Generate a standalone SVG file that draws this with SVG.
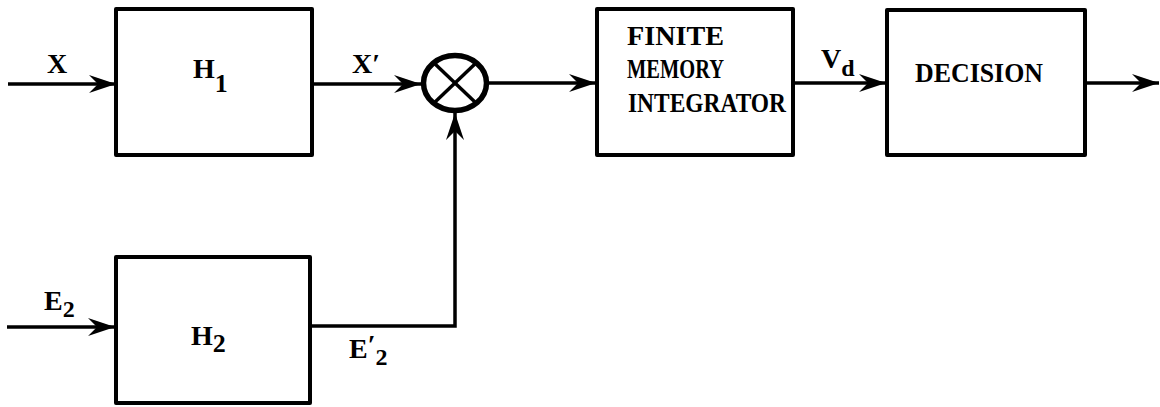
<svg xmlns="http://www.w3.org/2000/svg" width="1160" height="407" viewBox="0 0 1160 407">
<style>
.box{fill:none;stroke:#000;stroke-width:4;stroke-linejoin:round}
.ln{fill:none;stroke:#000;stroke-width:3.5}
.t{font-family:"Liberation Serif","Times New Roman",serif;font-weight:bold;font-size:28px;fill:#000}
</style>
<defs>
<marker id="ah" markerUnits="userSpaceOnUse" viewBox="-28 -11 30 22" markerWidth="30" markerHeight="22" refX="0" refY="0" orient="auto">
<path d="M0,0 L-27,-9 L-18,0 L-27,9 Z" fill="#000"/>
</marker>
</defs>
<rect width="1160" height="407" fill="#fff"/>
<g id="connectors">
<line class="ln" x1="8" y1="84" x2="116" y2="84" marker-end="url(#ah)"/>
<line class="ln" x1="312" y1="84" x2="421" y2="84" marker-end="url(#ah)"/>
<line class="ln" x1="489" y1="83" x2="596" y2="83" marker-end="url(#ah)"/>
<line class="ln" x1="793" y1="83" x2="886" y2="83" marker-end="url(#ah)"/>
<line class="ln" x1="1085" y1="83" x2="1159" y2="83" marker-end="url(#ah)"/>
<line class="ln" x1="7" y1="327" x2="115" y2="327" marker-end="url(#ah)"/>
<polyline class="ln" points="310,326 455,326 455,113" marker-end="url(#ah)"/>
</g>
<g id="labels">
<text class="t" x="47" y="73">X</text>
<text class="t" x="352" y="73">X′</text>
<text class="t" x="821" y="68">V<tspan dy="8" font-size="24">d</tspan></text>
<text class="t" x="44" y="310">E<tspan dy="7" font-size="24">2</tspan></text>
<text class="t" x="349" y="358">E<tspan dy="-4">′</tspan><tspan dy="11" font-size="24">2</tspan></text>
</g>
<g id="h1">
<rect class="box" x="116" y="9" width="196" height="146"/>
<text class="t" x="193" y="78">H<tspan dy="14" font-size="26">1</tspan></text>
</g>
<g id="h2">
<rect class="box" x="116" y="257" width="194" height="146"/>
<text class="t" x="191" y="345">H<tspan dy="7" font-size="26">2</tspan></text>
</g>
<g id="multiplier">
<ellipse cx="455" cy="83" rx="31.5" ry="27.5" fill="#fff" stroke="#000" stroke-width="5.5"/>
<line x1="434" y1="63" x2="476" y2="103" stroke="#000" stroke-width="3.5"/>
<line x1="476" y1="63" x2="434" y2="103" stroke="#000" stroke-width="3.5"/>
</g>
<g id="integrator">
<rect class="box" x="597" y="9" width="196" height="146"/>
<text class="t" x="627" y="45" textLength="97" lengthAdjust="spacingAndGlyphs">FINITE</text>
<text class="t" x="627" y="78" textLength="97" lengthAdjust="spacingAndGlyphs">MEMORY</text>
<text class="t" x="628" y="112" textLength="158" lengthAdjust="spacingAndGlyphs">INTEGRATOR</text>
</g>
<g id="decision">
<rect class="box" x="887" y="10" width="198" height="145"/>
<text class="t" x="915" y="82" textLength="128" lengthAdjust="spacingAndGlyphs">DECISION</text>
</g>
</svg>
